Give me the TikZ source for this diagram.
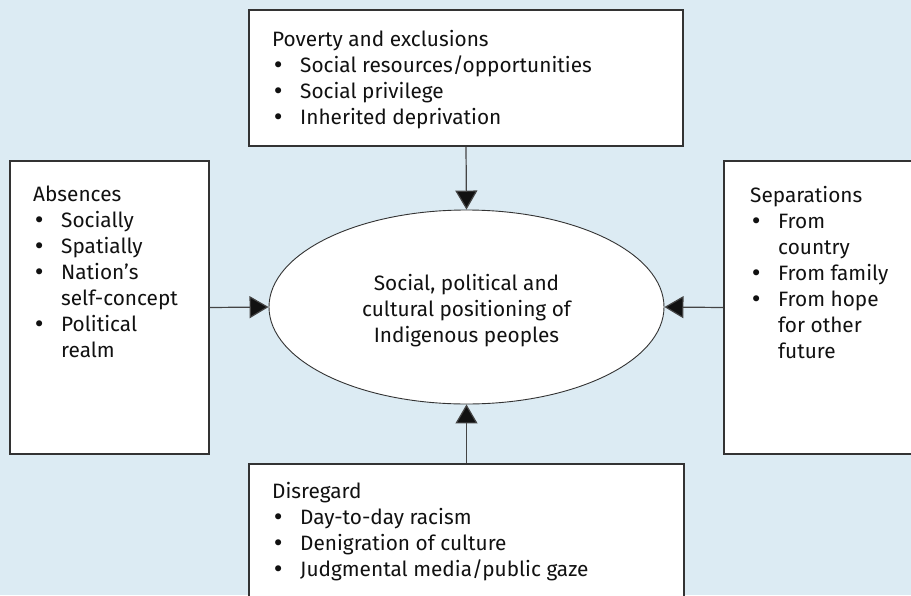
\documentclass[tikz,border=0pt]{standalone}
\usepackage{fontspec}
\setmainfont{Fira Sans}
\newfontfamily\bulletfont{DejaVu Sans}
\usetikzlibrary{arrows.meta,shapes.geometric}
\definecolor{panelbg}{HTML}{DCEBF3}
\definecolor{boxink}{HTML}{333333}
\definecolor{lineink}{HTML}{444444}
\definecolor{textink}{HTML}{111111}
% bullet and hanging indent for the list lines
\newcommand{\itm}{\makebox[28pt][l]{\bulletfont •}}
\newcommand{\cont}{\hspace*{28pt}}

\begin{document}
\begin{tikzpicture}[x=1pt,y=-1pt,
  box/.style={draw=boxink,line width=1.6pt,fill=white,inner sep=0pt},
  hub/.style={ellipse,draw=boxink,line width=0.9pt,fill=white,
    minimum width=395pt,minimum height=194pt,inner sep=0pt},
  hubtext/.style={align=center,inner sep=0pt,
    font=\fontsize{20.8}{26}\selectfont,text=textink},
  listtext/.style={anchor=north west,align=left,inner sep=0pt,
    font=\fontsize{20.8}{26}\selectfont,text=textink},
  push/.style={draw=lineink,line width=1.2pt,
    -{Triangle[length=19pt,width=22pt,fill=textink]}}]
  \fill[panelbg] (0,0) rectangle (911,595);
  \clip (0,0) rectangle (911,595);

  % the four surrounding boxes
  \node[box,minimum width=434pt,minimum height=136pt] (poverty) at (466,78) {};
  \node[box,minimum width=199pt,minimum height=293pt] (absences) at (109.5,307.5) {};
  \node[box,minimum width=199pt,minimum height=293pt] (separations) at (823.5,307.5) {};
  \node[box,minimum width=435pt,minimum height=136pt] (disregard) at (466.5,532) {};

  \node[hub] (hub) at (466.5,307) {};
  \node[hubtext] (hubtext) at ([yshift=-4pt]hub.center)
    {Social, political and\\cultural positioning of\\Indigenous peoples};

  \node[listtext] (povertylist) at (272,30) {Poverty and exclusions\\
    \itm Social resources/opportunities\\
    \itm Social privilege\\
    \itm Inherited deprivation};
  \node[listtext] (absencelist) at (33,186) {Absences\\
    \itm Socially\\
    \itm Spatially\\
    \itm Nation’s\\
    \cont self-concept\\
    \itm Political\\
    \cont realm};
  \node[listtext] (separationlist) at (750,186) {Separations\\
    \itm From\\
    \cont country\\
    \itm From family\\
    \itm From hope\\
    \cont for other\\
    \cont future};
  \node[listtext] (disregardlist) at (272,482) {Disregard\\
    \itm Day-to-day racism\\
    \itm Denigration of culture\\
    \itm Judgmental media/public gaze};

  \draw[push] (poverty.south) -- (hub.north);
  \draw[push] (absences.east) -- (hub.west);
  \draw[push] (separations.west) -- (hub.east);
  \draw[push] (disregard.north) -- (hub.south);
\end{tikzpicture}
\end{document}
